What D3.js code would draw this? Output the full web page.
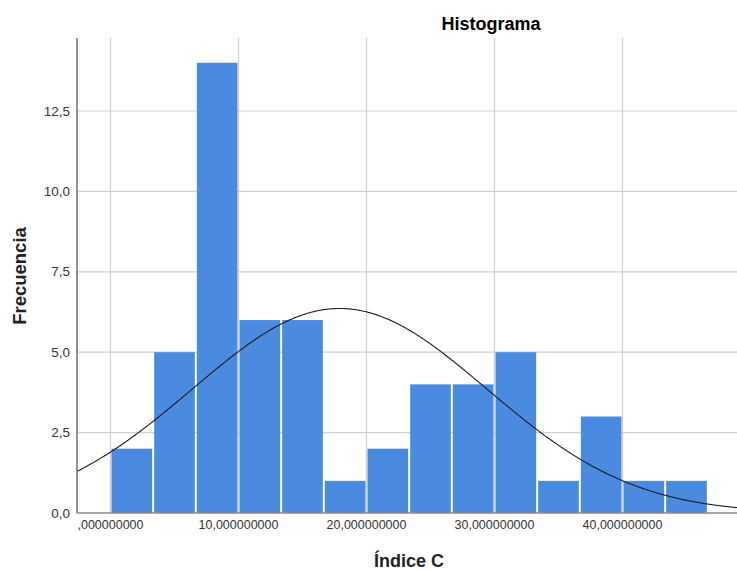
<!DOCTYPE html>
<html>
<head>
<meta charset="utf-8">
<script src="https://cdn.jsdelivr.net/npm/d3@7"></script>
<style>
  body { margin: 0; background: #fff; }
  svg { font-family: "Liberation Sans", Arial, sans-serif; }
</style>
</head>
<body>
<div id="chart"></div>
<script>
// histogram bins (lower edges) and frequencies
const binStarts = [0, 3.333, 6.667, 10, 13.333, 16.667, 20, 23.333, 26.667, 30, 33.333, 36.667, 40, 43.333];
const binWidth = 3.333;
const counts = [2, 5, 14, 6, 6, 1, 2, 4, 4, 5, 1, 3, 1, 1];
const yTicks = [0, 2.5, 5, 7.5, 10, 12.5];
const xTicks = [0, 10, 20, 30, 40];
const xTickLabels = [",000000000", "10,000000000", "20,000000000", "30,000000000", "40,000000000"];
// fitted normal curve parameters
const curveMean = 17.9;
const curveSd = 11.5;
const curveN = 55;

const width = 737, height = 571;
const plot = { left: 77, right: 737, top: 38, bottom: 513 };

const svg = d3.select("#chart").append("svg")
  .attr("width", width)
  .attr("height", height);

const x = d3.scaleLinear().domain([0, 40]).range([110.5, 622.5]);
const y = d3.scaleLinear().domain([0, 12.5]).range([plot.bottom, 111]);

// grid
svg.append("g")
  .selectAll("line")
  .data(yTicks.slice(1))
  .enter()
  .append("line")
  .attr("x1", plot.left).attr("x2", plot.right)
  .attr("y1", d => y(d)).attr("y2", d => y(d))
  .attr("stroke", "#cfcfcf")
  .attr("stroke-width", 1.2);

svg.append("g")
  .selectAll("line")
  .data(xTicks)
  .enter()
  .append("line")
  .attr("x1", d => x(d)).attr("x2", d => x(d))
  .attr("y1", plot.top).attr("y2", plot.bottom)
  .attr("stroke", "#cfcfcf")
  .attr("stroke-width", 1.2);

// bars
svg.append("g")
  .selectAll("rect")
  .data(counts)
  .enter()
  .append("rect")
  .attr("x", (d, i) => x(binStarts[i]) + 1)
  .attr("width", x(binWidth) - x(0) - 2)
  .attr("y", d => y(d))
  .attr("height", d => y(0) - y(d))
  .attr("fill", "#4a8be0");

// normal curve
const curvePts = d3.range(x.invert(plot.left), x.invert(plot.right) + 0.1, 0.1).map(v => {
  const pdf = Math.exp(-((v - curveMean) ** 2) / (2 * curveSd * curveSd)) / (curveSd * Math.sqrt(2 * Math.PI));
  return [v, curveN * binWidth * pdf];
});
svg.append("path")
  .datum(curvePts)
  .attr("fill", "none")
  .attr("stroke", "#1a1a1a")
  .attr("stroke-width", 1.1)
  .attr("d", d3.line().x(d => x(d[0])).y(d => y(d[1])).curve(d3.curveBasis));

// axes lines
svg.append("line")
  .attr("x1", plot.left).attr("x2", plot.right)
  .attr("y1", plot.bottom).attr("y2", plot.bottom)
  .attr("stroke", "#8a8a8a").attr("stroke-width", 1.5);
svg.append("line")
  .attr("x1", plot.left).attr("x2", plot.left)
  .attr("y1", plot.top).attr("y2", plot.bottom)
  .attr("stroke", "#6f6f6f").attr("stroke-width", 1.5);

// y tick labels
svg.append("g")
  .selectAll("text")
  .data(yTicks)
  .enter()
  .append("text")
  .attr("x", 70)
  .attr("y", d => y(d) + 4.5)
  .attr("text-anchor", "end")
  .attr("font-size", 13.5)
  .attr("fill", "#333")
  .text(d => d3.format(".1f")(d).replace(".", ","));

// x tick labels
svg.append("g")
  .selectAll("text")
  .data(xTicks)
  .enter()
  .append("text")
  .attr("x", d => x(d))
  .attr("y", 529)
  .attr("text-anchor", "middle")
  .attr("font-size", 12.5)
  .attr("fill", "#333")
  .text((d, i) => xTickLabels[i]);

// titles
svg.append("text")
  .attr("x", 491).attr("y", 30)
  .attr("text-anchor", "middle")
  .attr("font-size", 18).attr("font-weight", "bold")
  .text("Histograma");

svg.append("text")
  .attr("x", 409).attr("y", 567)
  .attr("text-anchor", "middle")
  .attr("font-size", 18).attr("font-weight", "bold")
  .attr("fill", "#222")
  .text("Índice C");

svg.append("text")
  .attr("transform", "translate(26,276) rotate(-90)")
  .attr("text-anchor", "middle")
  .attr("font-size", 18.5).attr("font-weight", "bold")
  .attr("fill", "#222")
  .text("Frecuencia");
</script>
</body>
</html>
